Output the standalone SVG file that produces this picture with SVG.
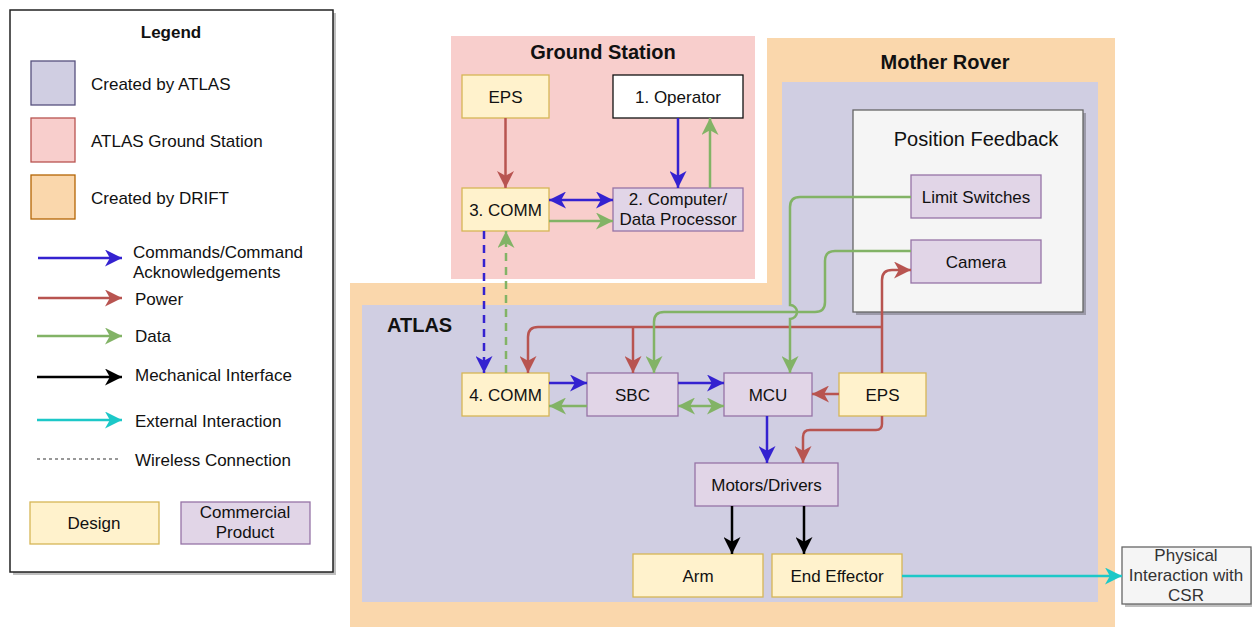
<svg xmlns="http://www.w3.org/2000/svg" width="1252" height="627" viewBox="0 0 1252 627">
<style>
text{font-family:"Liberation Sans",Arial,Helvetica,sans-serif;font-size:17px;fill:#111;dominant-baseline:central}
.c{text-anchor:middle}
.b{font-weight:bold}
.t20{font-size:20px}
.design{fill:#fff2cc;stroke:#d6b656;stroke-width:1.3}
.comm{fill:#e1d5e7;stroke:#9673a6;stroke-width:1.3}
.grey{fill:#f5f5f5;stroke:#666;stroke-width:1.3}
.shadow{fill:#000;opacity:0.25}
.ln{fill:none;stroke-width:2.5}
.blue{stroke:#3422d0}
.red{stroke:#b85450}
.green{stroke:#82b366}
.black{stroke:#000}
.cyan{stroke:#1cc8c8}
.dash{stroke-dasharray:8 6}
</style>
<defs>
<marker id="aB" markerUnits="userSpaceOnUse" markerWidth="17" markerHeight="17" viewBox="0 0 14 14" refX="14" refY="7" orient="auto-start-reverse"><path d="M0,0 L14,7 L0,14 L4,7 Z" fill="#3422d0"/></marker>
<marker id="aR" markerUnits="userSpaceOnUse" markerWidth="17" markerHeight="17" viewBox="0 0 14 14" refX="14" refY="7" orient="auto-start-reverse"><path d="M0,0 L14,7 L0,14 L4,7 Z" fill="#b85450"/></marker>
<marker id="aG" markerUnits="userSpaceOnUse" markerWidth="17" markerHeight="17" viewBox="0 0 14 14" refX="14" refY="7" orient="auto-start-reverse"><path d="M0,0 L14,7 L0,14 L4,7 Z" fill="#82b366"/></marker>
<marker id="aK" markerUnits="userSpaceOnUse" markerWidth="17" markerHeight="17" viewBox="0 0 14 14" refX="14" refY="7" orient="auto-start-reverse"><path d="M0,0 L14,7 L0,14 L4,7 Z" fill="#000"/></marker>
<marker id="aC" markerUnits="userSpaceOnUse" markerWidth="17" markerHeight="17" viewBox="0 0 14 14" refX="14" refY="7" orient="auto-start-reverse"><path d="M0,0 L14,7 L0,14 L4,7 Z" fill="#1cc8c8"/></marker>
</defs>
<rect width="1252" height="627" fill="#fff"/>

<g id="legend">
<rect x="13" y="13" width="323" height="562" class="shadow"/>
<rect x="10" y="10" width="323" height="562" fill="#fff" stroke="#222" stroke-width="1.5"/>
<text x="171" y="32" class="c b">Legend</text>
<rect x="31" y="61" width="44" height="44" fill="#d0cee2" stroke="#56517e" stroke-width="1.3"/>
<text x="91" y="84">Created by ATLAS</text>
<rect x="31" y="118" width="44" height="44" fill="#f8cecc" stroke="#b85450" stroke-width="1.3"/>
<text x="91" y="141">ATLAS Ground Station</text>
<rect x="31" y="175" width="44" height="44" fill="#fad7ac" stroke="#b46504" stroke-width="1.3"/>
<text x="91" y="198">Created by DRIFT</text>
<path d="M38,258 H122" class="ln blue" marker-end="url(#aB)"/>
<text x="133" y="252">Commands/Command</text>
<text x="133" y="272">Acknowledgements</text>
<path d="M38,298 H122" class="ln red" marker-end="url(#aR)"/>
<text x="135" y="299">Power</text>
<path d="M37,336 H122" class="ln green" marker-end="url(#aG)"/>
<text x="135" y="336">Data</text>
<path d="M37,377 H122" class="ln black" marker-end="url(#aK)"/>
<text x="135" y="375">Mechanical Interface</text>
<path d="M37,420 H122" class="ln cyan" marker-end="url(#aC)"/>
<text x="135" y="421">External Interaction</text>
<path d="M37,459 H120" fill="none" stroke="#777" stroke-width="1.5" stroke-dasharray="3 3"/>
<text x="135" y="460">Wireless Connection</text>
<rect x="30" y="502" width="129" height="42" class="design"/>
<text x="94" y="523" class="c">Design</text>
<rect x="181" y="502" width="129" height="42" class="comm"/>
<text x="245" y="512" class="c">Commercial</text>
<text x="245" y="532" class="c">Product</text>
</g>

<g id="regions">
<rect id="ground-station" x="451" y="36" width="304" height="243" fill="#f8cecc"/>
<polygon id="drift" points="767,38 1115,38 1115,627 350,627 350,283 767,283" fill="#fad7ac"/>
<polygon id="atlas" points="782,82 1098,82 1098,602 362,602 362,305 782,305" fill="#d0cee2"/>
<text x="603" y="52" class="c b t20">Ground Station</text>
<text x="945" y="62" class="c b t20">Mother Rover</text>
<text x="387" y="325" class="b t20">ATLAS</text>
</g>

<g id="position-feedback">
<rect x="856" y="113" width="230" height="202" class="shadow"/>
<rect x="853" y="110" width="230" height="202" class="grey"/>
<text x="976" y="139" class="c t20">Position Feedback</text>
</g>

<g id="gs-eps"><rect x="462" y="75" width="87" height="43" class="design"/><text x="505.5" y="97" class="c">EPS</text></g>
<g id="operator"><rect x="613" y="75" width="130" height="43" fill="#fff" stroke="#111" stroke-width="1.3"/><text x="678" y="97" class="c">1. Operator</text></g>
<g id="comm3"><rect x="462" y="188" width="87" height="43" class="design"/><text x="505.5" y="210" class="c">3. COMM</text></g>
<g id="computer"><rect x="613" y="188" width="130" height="43" class="comm"/><text x="678" y="199" class="c">2. Computer/</text><text x="678" y="219" class="c">Data Processor</text></g>
<g id="limit-switches"><rect x="911" y="175" width="130" height="43" class="comm"/><text x="976" y="197" class="c">Limit Switches</text></g>
<g id="camera"><rect x="911" y="240" width="130" height="43" class="comm"/><text x="976" y="262" class="c">Camera</text></g>
<g id="comm4"><rect x="462" y="373" width="87" height="43" class="design"/><text x="505.5" y="395" class="c">4. COMM</text></g>
<g id="sbc"><rect x="587" y="373" width="91" height="43" class="comm"/><text x="632.5" y="395" class="c">SBC</text></g>
<g id="mcu"><rect x="724" y="373" width="88" height="43" class="comm"/><text x="768" y="395" class="c">MCU</text></g>
<g id="eps"><rect x="839" y="373" width="87" height="43" class="design"/><text x="882.5" y="395" class="c">EPS</text></g>
<g id="motors"><rect x="695" y="463" width="143" height="43" class="comm"/><text x="766.5" y="485" class="c">Motors/Drivers</text></g>
<g id="arm"><rect x="633" y="554" width="130" height="43" class="design"/><text x="698" y="576" class="c">Arm</text></g>
<g id="end-effector"><rect x="772" y="554" width="130" height="43" class="design"/><text x="837" y="576" class="c">End Effector</text></g>
<g id="physical"><rect x="1125" y="550" width="127" height="57" class="shadow"/><rect x="1122" y="547" width="129" height="57" class="grey"/><text x="1186" y="555" class="c" style="fill:#333">Physical</text><text x="1186" y="575" class="c" style="fill:#333">Interaction with</text><text x="1186" y="595" class="c" style="fill:#333">CSR</text></g>

<g id="connectors">
<path d="M505.5,118 V188" class="ln red" marker-end="url(#aR)"/>
<path d="M678,118 V188" class="ln blue" marker-end="url(#aB)"/>
<path d="M710,188 V118" class="ln green" marker-end="url(#aG)"/>
<path d="M549,200 H613" class="ln blue" marker-start="url(#aB)" marker-end="url(#aB)"/>
<path d="M549,221 H613" class="ln green" marker-end="url(#aG)"/>
<path d="M484,231 V373" class="ln blue dash" marker-end="url(#aB)"/>
<path d="M506,373 V231" class="ln green dash" marker-end="url(#aG)"/>
<path d="M549,383 H587" class="ln blue" marker-end="url(#aB)"/>
<path d="M587,406 H549" class="ln green" marker-end="url(#aG)"/>
<path d="M678,383 H724" class="ln blue" marker-end="url(#aB)"/>
<path d="M678,406 H724" class="ln green" marker-start="url(#aG)" marker-end="url(#aG)"/>
<path d="M839,394 H812" class="ln red" marker-end="url(#aR)"/>
<path d="M767,416 V463" class="ln blue" marker-end="url(#aB)"/>
<path d="M882,416 V424 Q882,430 876,430 H810 Q803,430 803,437 V463" class="ln red" marker-end="url(#aR)"/>
<path d="M882,373 V280 Q882,270 892,270 H911" class="ln red" marker-end="url(#aR)"/>
<path d="M882,327 H538 Q528,327 528,337 V373" class="ln red" marker-end="url(#aR)"/>
<path d="M633,327 V373" class="ln red" marker-end="url(#aR)"/>
<path d="M911,197 H800 Q790,197 790,207 V305 A7,7 0 0 1 790,319 V373" class="ln green" marker-end="url(#aG)"/>
<path d="M911,251 H835 Q825,251 825,261 V302 Q825,312 815,312 H664 Q654,312 654,322 V373" class="ln green" marker-end="url(#aG)"/>
<path d="M732,506 V554" class="ln black" stroke-width="2.8" marker-end="url(#aK)"/>
<path d="M804,506 V554" class="ln black" stroke-width="2.8" marker-end="url(#aK)"/>
<path d="M902,576 H1122" class="ln cyan" marker-end="url(#aC)"/>
</g>
</svg>
